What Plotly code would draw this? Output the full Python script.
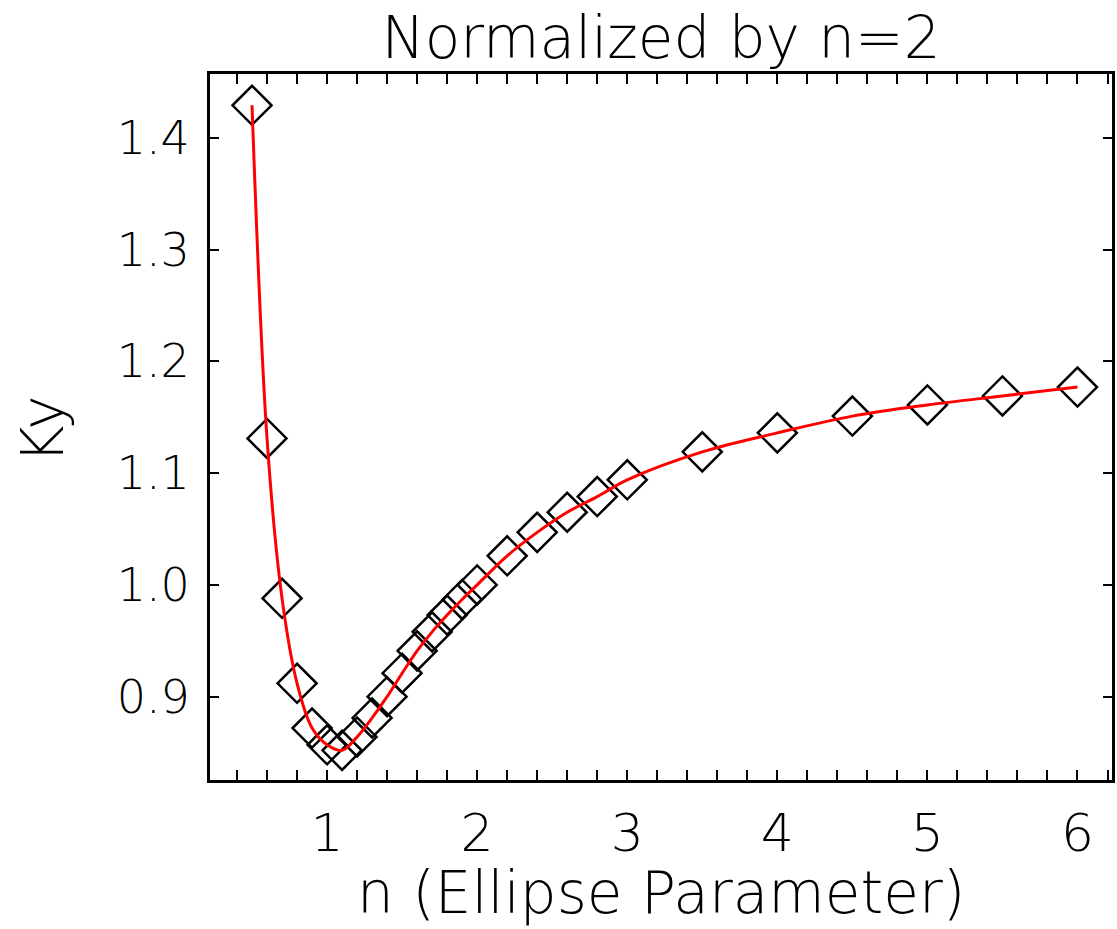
import plotly.graph_objects as go

# Data
n_values = [0.5, 0.6, 0.7, 0.8, 0.9, 1.0, 1.1, 1.2, 1.3, 1.4, 1.5, 1.6, 1.7, 1.8, 1.9, 2.0,
            2.2, 2.4, 2.6, 2.8, 3.0, 3.5, 4.0, 4.5, 5.0, 5.5, 6.0]
ky_values = [1.429, 1.131, 0.988, 0.912, 0.872, 0.857, 0.852, 0.864, 0.881, 0.900, 0.921,
             0.941, 0.958, 0.973, 0.987, 1.000, 1.026, 1.047, 1.065, 1.079, 1.094,
             1.119, 1.136, 1.151, 1.161, 1.169, 1.177]

y_ticks = [0.9, 1.0, 1.1, 1.2, 1.3, 1.4]
x_ticks = [1, 2, 3, 4, 5, 6]

title_text = "Normalized by n=2"
x_title = "n (Ellipse Parameter)"
y_title = "Ky"

FONT = "DejaVu Sans"

fig = go.Figure()
fig.add_trace(go.Scatter(
    x=n_values, y=ky_values, mode="markers",
    marker=dict(symbol="diamond-open", size=30, color="black",
                line=dict(color="black", width=2.5)),
    showlegend=False, hoverinfo="skip"))
fig.add_trace(go.Scatter(
    x=n_values, y=ky_values, mode="lines",
    line=dict(color="#ff0000", width=3, shape="spline", smoothing=1.0),
    showlegend=False, hoverinfo="skip"))

fig.update_layout(
    width=1117, height=929,
    margin=dict(l=210, r=2, t=74, b=149),
    paper_bgcolor="white", plot_bgcolor="white",
    font=dict(family=FONT, color="black"),
    title=dict(text=title_text, x=0.5, xref="paper", xanchor="center",
               y=1 - 38 / 929, yref="container", yanchor="middle",
               font=dict(family=FONT, size=58, color="black", weight=200)),
)

fig.update_xaxes(
    range=[0.22, 6.23], showgrid=False, zeroline=False,
    showline=True, linecolor="black", linewidth=3, mirror="ticks",
    ticks="inside", ticklen=10, tickwidth=2, tickcolor="black",
    tickvals=x_ticks, ticktext=[str(v) for v in x_ticks],
    tickfont=dict(family=FONT, size=52, color="black", weight=200),
    ticklabelstandoff=6,
    minor=dict(dtick=0.2, tick0=0, ticks="inside", ticklen=10, tickwidth=2,
               tickcolor="black", showgrid=False),
)
fig.update_yaxes(
    range=[0.8255, 1.457], showgrid=False, zeroline=False,
    showline=True, linecolor="black", linewidth=3, mirror="ticks",
    ticks="inside", ticklen=9, tickwidth=2, tickcolor="black",
    tickvals=y_ticks, ticktext=["%.1f" % v for v in y_ticks],
    tickfont=dict(family=FONT, size=46, color="black", weight=200),
    ticklabelstandoff=8,
)

fig.add_annotation(text=x_title, xref="paper", yref="paper", x=0.5, y=(780 - 893) / 706,
                   xanchor="center", yanchor="middle", showarrow=False,
                   font=dict(family=FONT, size=58, color="black", weight=200))
fig.add_annotation(text=y_title, xref="paper", yref="paper", x=(42 - 210) / 905,
                   y=(780 - 430) / 706, xanchor="center", yanchor="middle",
                   textangle=-90, showarrow=False,
                   font=dict(family=FONT, size=58, color="black", weight=200))

fig.write_html("out.html", config={"displayModeBar": False},
               post_script="document.body.style.margin='0';")
